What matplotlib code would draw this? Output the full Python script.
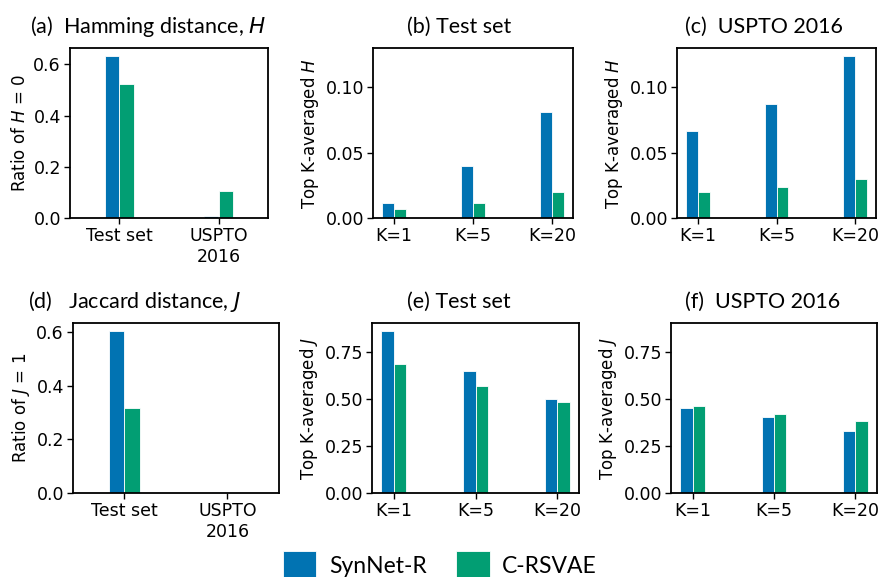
import matplotlib
matplotlib.use('Agg')
import matplotlib.pyplot as plt
from matplotlib.ticker import MultipleLocator

# data
models = ['SynNet-R', 'C-RSVAE']
colors = ['#0173B2', '#029E73']

datasets = ['Test set', 'USPTO\n2016']
topk = ['K=1', 'K=5', 'K=20']

ratio_h0_synnet = [0.632, 0.008]
ratio_h0_crsvae = [0.525, 0.105]

avg_h_test_synnet = [0.0115, 0.040, 0.081]
avg_h_test_crsvae = [0.0069, 0.0115, 0.0196]
avg_h_uspto_synnet = [0.0669, 0.087, 0.124]
avg_h_uspto_crsvae = [0.0196, 0.0237, 0.0298]

ratio_j1_synnet = [0.6025, 0.005]
ratio_j1_crsvae = [0.316, 0.0]

avg_j_test_synnet = [0.862, 0.652, 0.498]
avg_j_test_crsvae = [0.686, 0.569, 0.483]
avg_j_uspto_synnet = [0.455, 0.404, 0.332]
avg_j_uspto_crsvae = [0.461, 0.423, 0.382]

W, H = 879, 577
TITLE_FONT = 'Lato'
TICK_SIZE = 12.5
LABEL_SIZE = 12


def rect(l, t, r, b):
	return [l / W, 1 - b / H, (r - l) / W, (b - t) / H]


def bars(ax, labels, a, b, width=0.15):
	x = list(range(len(labels)))
	h1 = ax.bar([i - width / 2 for i in x], a, width, color=colors[0],
		edgecolor='white', linewidth=0.6, label=models[0])
	h2 = ax.bar([i + width / 2 for i in x], b, width, color=colors[1],
		edgecolor='white', linewidth=0.6, label=models[1])
	ax.set_xticks(x)
	ax.set_xticklabels(labels)
	ax.tick_params(labelsize=TICK_SIZE, width=1.0, length=4, pad=2.5)
	for s in ax.spines.values():
		s.set_linewidth(1.3)
	return h1, h2


def title(x, y, s):
	fig.text(x / W, 1 - y / H, s, fontsize=15.5, family=TITLE_FONT,
		ha='left', va='baseline')


fig = plt.figure(figsize=(W / 100, H / 100), dpi=100)

ax_a = fig.add_axes(rect(70, 48, 268, 218))
bars(ax_a, datasets, ratio_h0_synnet, ratio_h0_crsvae)
ax_a.set_xlim(-0.5, 1.5)
ax_a.set_ylabel('Ratio of $H$ = 0', fontsize=LABEL_SIZE, labelpad=3)

ax_b = fig.add_axes(rect(373, 48, 573, 218))
bars(ax_b, topk, avg_h_test_synnet, avg_h_test_crsvae)
ax_b.set_ylabel('Top K-averaged $H$', fontsize=LABEL_SIZE, labelpad=3)

ax_c = fig.add_axes(rect(677, 48, 876, 218), sharey=ax_b)
bars(ax_c, topk, avg_h_uspto_synnet, avg_h_uspto_crsvae)
ax_c.set_ylabel('Top K-averaged $H$', fontsize=LABEL_SIZE, labelpad=3)
ax_b.yaxis.set_major_locator(MultipleLocator(0.05))

ax_d = fig.add_axes(rect(73, 323, 279, 493))
bars(ax_d, datasets, ratio_j1_synnet, ratio_j1_crsvae)
ax_d.set_xlim(-0.5, 1.5)
ax_d.set_ylabel('Ratio of $J$ = 1', fontsize=LABEL_SIZE, labelpad=3)

ax_e = fig.add_axes(rect(372, 323, 579, 493))
handles = bars(ax_e, topk, avg_j_test_synnet, avg_j_test_crsvae)
ax_e.set_ylabel('Top K-averaged $J$', fontsize=LABEL_SIZE, labelpad=3)

ax_f = fig.add_axes(rect(671, 323, 877, 493), sharey=ax_e)
bars(ax_f, topk, avg_j_uspto_synnet, avg_j_uspto_crsvae)
ax_f.set_ylabel('Top K-averaged $J$', fontsize=LABEL_SIZE, labelpad=3)
ax_e.yaxis.set_major_locator(MultipleLocator(0.25))

for ax in (ax_a, ax_d):
	ax.yaxis.set_major_locator(MultipleLocator(0.2))

title(30, 33, '(a)  Hamming distance, $H$')
title(407, 33, '(b) Test set')
title(685, 33, '(c)  USPTO 2016')
title(28, 308, '(d)   Jaccard distance, $J$')
title(407, 308, '(e) Test set')
title(685, 308, '(f)  USPTO 2016')

fig.legend(handles, models, loc='upper left', bbox_to_anchor=(283 / W, 1 - 551 / H),
	ncol=2, frameon=False, prop={'family': TITLE_FONT, 'size': 16.5},
	handlelength=1.45, handleheight=1.6, columnspacing=1.3, handletextpad=0.55,
	borderaxespad=0, borderpad=0)

fig.savefig('out.png', dpi=100)
